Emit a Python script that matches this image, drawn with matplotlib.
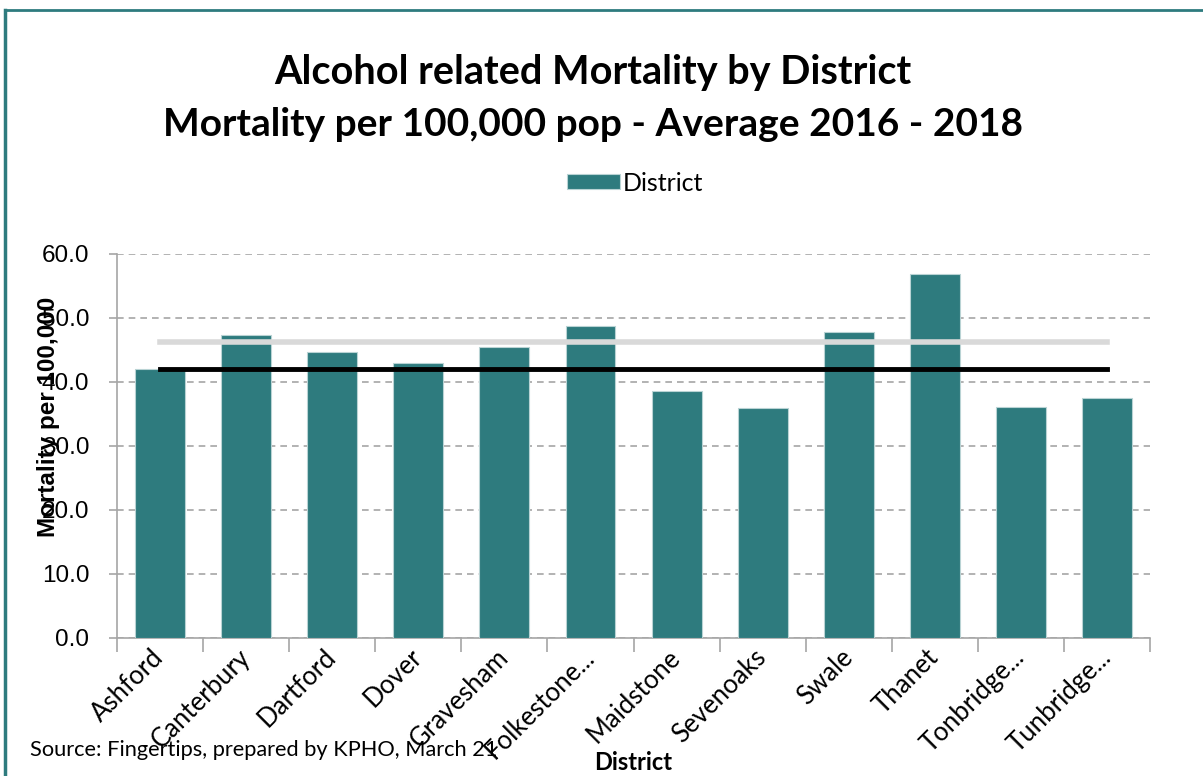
import numpy as np
import matplotlib.pyplot as plt

plt.rcParams['font.family'] = ['Lato', 'DejaVu Sans']

# Datos
distritos = ["Ashford", "Canterbury", "Dartford", "Dover", "Gravesham", "Folkestone...",
             "Maidstone", "Sevenoaks", "Swale", "Thanet", "Tonbridge...", "Tunbridge..."]
mortalidad = [42.0, 47.3, 44.7, 43.0, 45.5, 48.7, 38.6, 35.9, 47.8, 56.9, 36.1, 37.5]
england = [46.3] * len(distritos)
kent = [42.0] * len(distritos)

color_barra = "#2e7b7e"
arial = ['Liberation Sans', 'DejaVu Sans']

fig = plt.figure(figsize=(12.03, 7.76), dpi=100)
ax = fig.add_axes([0.0973, 0.178, 0.8587, 0.4947])

x = np.arange(len(distritos))
ax.bar(x, mortalidad, width=0.58, color=color_barra, edgecolor="#b9d3d4",
       linewidth=0.8, label="District", zorder=3)
ax.plot(x, england, color="#d9d9d9", linewidth=4, zorder=4)
ax.plot(x, kent, color="black", linewidth=3.5, zorder=5)

ax.set_xlim(-0.5, len(distritos) - 0.5)
ax.set_ylim(0, 60)

ax.tick_params(axis="y", length=6, color="#a6a6a6", width=1.2, pad=14)
ax.tick_params(axis="x", which="major", length=0, pad=11)
ax.tick_params(axis="x", which="minor", length=10, color="#a6a6a6", width=1.2)

ax.set_yticks(np.arange(0, 61, 10))
ax.set_yticklabels([f"{v:.1f}" for v in np.arange(0, 61, 10)], fontsize=17.5, family=arial)
ax.yaxis.grid(True, linestyle=(0, (4, 3)), color="#a6a6a6", linewidth=1.2, zorder=0)

ax.set_xticks(x)
ax.set_xticklabels(distritos, rotation=45, ha="right", va="center",
                   rotation_mode="anchor", fontsize=18.5)
ax.set_xticks(np.arange(-0.5, len(distritos)), minor=True)

for lado in ["top", "right"]:
    ax.spines[lado].set_visible(False)
for lado in ["left", "bottom"]:
    ax.spines[lado].set_color("#a6a6a6")
    ax.spines[lado].set_linewidth(1.2)

fig.text(0.493, 0.907, "Alcohol related Mortality by District", ha="center", va="center",
         fontsize=28.5, fontweight="bold")
fig.text(0.493, 0.839, "Mortality per 100,000 pop - Average 2016 - 2018", ha="center",
         va="center", fontsize=28, fontweight="bold")

fig.legend(loc="center", bbox_to_anchor=(0.528, 0.764), frameon=False, fontsize=18,
           handlelength=2.1, handleheight=0.56, handletextpad=0.1)

fig.text(0.040, 0.463, "Mortality per 100,000", rotation=90, ha="center", va="center",
         fontsize=17.5, fontweight="bold", family=arial)
fig.text(0.526, 0.017, "District", ha="center", va="center", fontsize=17, fontweight="bold")
fig.text(0.025, 0.033, "Source: Fingertips, prepared by KPHO, March 21", ha="left",
         va="center", fontsize=15.7)

# borde superior e izquierdo
fig.add_artist(plt.Line2D([0.004, 0.004], [0, 0.987], color="#2e7b7e", linewidth=2.5))
fig.add_artist(plt.Line2D([0.004, 1], [0.987, 0.987], color="#2e7b7e", linewidth=2))

fig.savefig("out.png", dpi=100)
